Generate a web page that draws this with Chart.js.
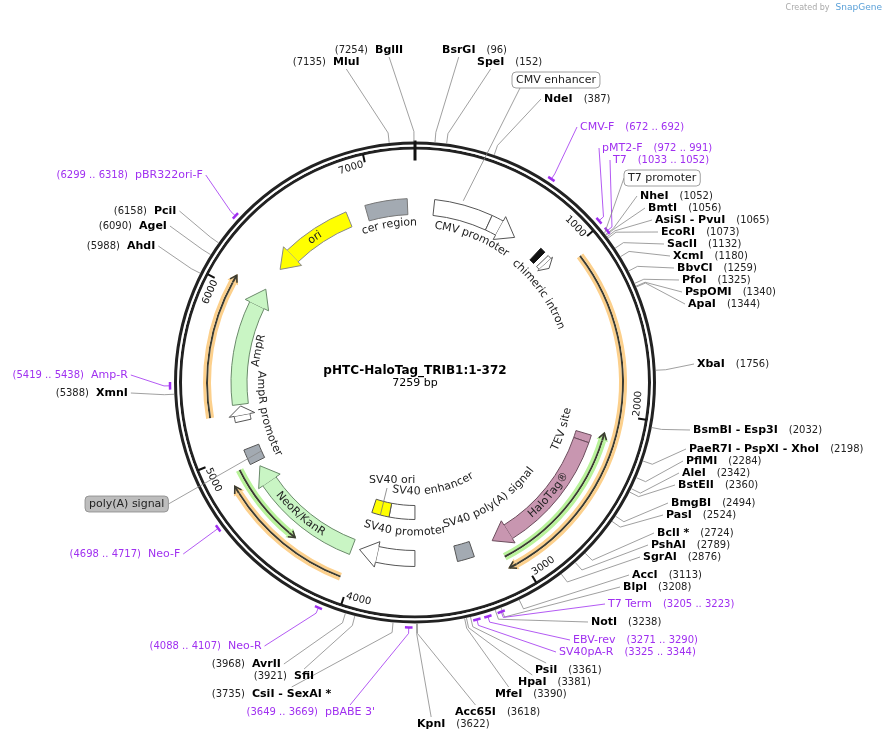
<!DOCTYPE html>
<html><head><meta charset="utf-8">
<script src="https://cdn.jsdelivr.net/npm/chart.js@4/dist/chart.umd.min.js"></script>
<style>html,body{margin:0;padding:0;background:#fff}</style>
</head><body>
<canvas id="c" width="885" height="741"></canvas>
<script>
const TOTAL = 7259;
const TITLE = 'pHTC-HaloTag_TRIB1:1-372';
// Features (bp)
const featNames = ['ORF1','ORF2','ORF3','HaloLine','NeoLine','CMVenh','CMV promoter','intron','intronArrow','TEV site','HaloTag','SV40pA','SV40 promoter','NeoR/KanR','polyA','AmpR promoter','AmpR','ori','cer region','SV40 enhancer','SV40 ori'];
const featStart = [1059,4053,5245,2117,4390,124,500,870,935,2150,2200,3250,3630,4050,4910,5190,5300,6250,6940,3630,3850];
const featEnd   = [3085,4840,6070,3080,4910,500,695,905,1000,2200,3105,3360,4000,4875,5010,5290,6090,6815,7210,3850,4000];
const featTrack = ['orf','orf','orf','line','line','main','main','main','main','main','main','main','main','main','main','main','main','main','main','inner','inner'];
const featDir   = [1,1,1,-1,-1,0,1,0,1,0,1,0,1,1,0,1,1,-1,0,0,0];
// Feature labels
const flText = ['CMV promoter','chimeric intron','cer region','ori','AmpR','AmpR promoter','NeoR/KanR','SV40 promoter','SV40 enhancer','SV40 poly(A) signal','HaloTag®','TEV site'];
const flBp   = [433,1100,7071,6560,5677,5203,4458,3710,3428,2977,2630,2170];
// Restriction sites
const siteNames = ['BglII','MluI','BsrGI','SpeI','NdeI','NheI','BmtI','AsiSI - PvuI','EcoRI','SacII','XcmI','BbvCI','PfoI','PspOMI','ApaI','XbaI','BsmBI - Esp3I','PaeR7I - PspXI - XhoI','PflMI','AleI','BstEII','BmgBI','PasI','BclI *','PshAI','SgrAI','AccI','BlpI','NotI','PsiI','HpaI','MfeI','Acc65I','KpnI','CsiI - SexAI *','SfiI','AvrII','XmnI','AhdI','AgeI','PciI'];
const sitePos = [7254,7135,96,152,387,1052,1056,1065,1073,1132,1180,1259,1325,1340,1344,1756,2032,2198,2284,2342,2360,2494,2524,2724,2789,2876,3113,3208,3238,3361,3381,3390,3618,3622,3735,3921,3968,5388,5988,6090,6158];
// Primers
const primerNames = ['CMV-F','pMT2-F','T7','T7 Term','EBV-rev','SV40pA-R',"pBABE 3'",'Neo-R','Neo-F','Amp-R','pBR322ori-F'];
const primerStart = [672,972,1033,3205,3271,3325,3649,4088,4698,5419,6299];
const primerEnd   = [692,991,1052,3223,3290,3344,3669,4107,4717,5438,6318];
// Callout features
const calloutNames = ['CMV enhancer','T7 promoter','poly(A) signal'];
const calloutPos = [300,1045,4960];
const tickLabels = ['1000','2000','3000','4000','5000','6000','7000'];
const tickPos = [1000,2000,3000,4000,5000,6000,7000];

// ---- layout / style (not data) ----
const siteLayout = [
 [375,50,'L','b'],[333,62,'L','b'],[442,50,'R','b'],[477,62,'R','b'],[544,99,'R','l'],
 [640,196,'R','l'],[648,208,'R','l'],[655,220,'R','l'],[661,232,'R','l'],[667,244,'R','l'],[673,256,'R','l'],[677,268,'R','l'],[682,280,'R','l'],[685,292,'R','l'],[688,304,'R','l'],
 [697,364,'R','l'],[693,430,'R','l'],[689,449,'R','l'],[686,461,'R','l'],[682,473,'R','l'],[678,485,'R','l'],[671,503,'R','l'],[666,515,'R','l'],[657,533,'R','l'],[651,545,'R','l'],[643,557,'R','l'],[632,575,'R','l'],[623,587,'R','l'],[591,622,'R','l'],
 [535,670,'R','t'],[518,682,'R','t'],[495,694,'R','t'],[455,712,'R','t'],[417,724,'R','t'],
 [252,694,'L','t'],[294,676,'L','t'],[252,664,'L','r'],[96,393,'L','r'],[127,246,'L','r'],[139,226,'L','r'],[154,211,'L','r']
];
const primerLayout = [[580,127,'R','l'],[602,148,'R','l'],[613,160,'R','l'],[608,604,'R','l'],[573,640,'R','l'],[559,652,'R','l'],[325,712,'L','t'],[228,646,'L','r'],[148,554,'L','r'],[91,375,'L','r'],[135,175,'L','r']];
const calloutLayout = [[512,80,'#fff'],[624,178,'#fff'],[85,504,'#bdbdbd']];
const flRadius = [158,156,160,176,160,154,176,150,109,145,176,155];
const featStyle = {
 ORF1:['#fcd08c'],ORF2:['#fcd08c'],ORF3:['#fcd08c'],HaloLine:['#b9f39a'],NeoLine:['#b9f39a'],
 CMVenh:['#ffffff','#555'],'CMV promoter':['#ffffff','#555'],intron:['#111','#111'],intronArrow:['#ffffff','#555'],
 'TEV site':['#c896b0','#6b4c5c'],HaloTag:['#c896b0','#6b4c5c'],SV40pA:['#a3aab2','#555'],'SV40 promoter':['#ffffff','#555'],
 'NeoR/KanR':['#c9f5c4','#6a8a6a'],polyA:['#a3aab2','#555'],'AmpR promoter':['#ffffff','#555'],AmpR:['#c9f5c4','#6a8a6a'],
 ori:['#ffff00','#888'],'cer region':['#a3aab2','#777'],'SV40 enhancer':['#ffffff','#555'],'SV40 ori':['#ffff00','#555']
};
const DARK = '#3c3c32';
const HEAD = {main:120, inner:60, orf:45, line:45};
const T = 'rgba(0,0,0,0)';
const FONT = '"DejaVu Sans", Verdana, sans-serif';
const PURPLE = '#a030f0';

function trackSegs(track, layer){
  const idx = featNames.map((n,i)=>i).filter(i=>featTrack[i]===track).sort((a,b)=>featStart[a]-featStart[b]);
  const data=[],bg=[],bc=[],bw=[]; let cur=0;
  idx.forEach(i=>{
    const s=featStart[i], e=featEnd[i], d=featDir[i];
    const hb = d ? Math.min(HEAD[track], (e-s)*0.6) : 0;
    const bs = d<0 ? s+hb : s, be = d>0 ? e-hb : e;
    if (bs>cur){data.push(bs-cur);bg.push(T);bc.push(T);bw.push(0);}
    data.push(be-bs);
    const st = featStyle[featNames[i]];
    if (layer==='glow'){bg.push(st[0]);bc.push(T);bw.push(0);}
    else if (layer==='dark'){bg.push(DARK);bc.push(T);bw.push(0);}
    else {bg.push(st[0]);bc.push(st[1]);bw.push(1);}
    cur=be;
  });
  if (cur<TOTAL){data.push(TOTAL-cur);bg.push(T);bc.push(T);bw.push(0);}
  return {data,backgroundColor:bg,borderColor:bc,borderWidth:bw};
}
function solid(color,w){return {data:[TOTAL],backgroundColor:[color],borderColor:[T],borderWidth:[0],weight:w};}
const datasets = [
  solid('#222',3), solid('#fff',2), solid('#222',3), solid(T,21),
  Object.assign(trackSegs('orf','glow'),{weight:3}), Object.assign(trackSegs('orf','dark'),{weight:2}), Object.assign(trackSegs('orf','glow'),{weight:3}),
  solid(T,4),
  Object.assign(trackSegs('line','glow'),{weight:3}), Object.assign(trackSegs('line','dark'),{weight:2}), Object.assign(trackSegs('line','glow'),{weight:3}),
  solid(T,8),
  Object.assign(trackSegs('main','f'),{weight:16}),
  solid(T,31),
  Object.assign(trackSegs('inner','f'),{weight:14})
];

const mapPlugin = {
  id:'map',
  afterDatasetsDraw(chart){
    const ctx = chart.ctx;
    const a0 = chart.getDatasetMeta(0).data[0];
    const cx=a0.x, cy=a0.y, R0=a0.outerRadius, Rin = chart.getDatasetMeta(2).data[0].innerRadius;
    const ang = bp => -Math.PI/2 + 2*Math.PI*bp/TOTAL;
    const pt = (bp,r)=>[cx+r*Math.cos(ang(bp)), cy+r*Math.sin(ang(bp))];
    const rr = i => {const m=chart.getDatasetMeta(i).data[0]; return [m.innerRadius,m.outerRadius];};
    const radii = {main:rr(12), inner:rr(14), orf:[rr(6)[0],rr(4)[1]], line:[rr(10)[0],rr(8)[1]]};
    ctx.save();
    featNames.forEach((n,i)=>{
      const d=featDir[i]; if(!d) return;
      const tr=featTrack[i], [ri,ro]=radii[tr], rm=(ri+ro)/2;
      const s=featStart[i], e=featEnd[i];
      const hb=Math.min(HEAD[tr],(e-s)*0.6);
      const tip = d>0?e:s, base = d>0?e-hb:s+hb;
      const st=featStyle[n];
      if (tr==='main'||tr==='inner'){
        const w = (e-s)<100 ? 2 : 5;
        ctx.beginPath();
        ctx.moveTo(...pt(base,ro+w)); ctx.lineTo(...pt(tip,rm)); ctx.lineTo(...pt(base,ri-w)); ctx.closePath();
        ctx.fillStyle=st[0]; ctx.fill();
        ctx.beginPath(); ctx.moveTo(...pt(base,ro)); ctx.lineTo(...pt(base,ro+w)); ctx.lineTo(...pt(tip,rm)); ctx.lineTo(...pt(base,ri-w)); ctx.lineTo(...pt(base,ri));
        ctx.strokeStyle=st[1]; ctx.lineWidth=1; ctx.stroke();
      } else {
        ctx.beginPath(); ctx.moveTo(...pt(base,ro+2)); ctx.lineTo(...pt(tip+d*8,rm)); ctx.lineTo(...pt(base,ri-2)); ctx.closePath();
        ctx.fillStyle=st[0]; ctx.fill();
        ctx.strokeStyle=DARK; ctx.lineWidth=2;
        ctx.beginPath(); ctx.moveTo(...pt(base,rm)); ctx.lineTo(...pt(tip,rm)); ctx.stroke();
        ctx.lineWidth=1.6;
        ctx.beginPath(); ctx.moveTo(...pt(tip-d*hb*0.8,rm+4)); ctx.lineTo(...pt(tip,rm)); ctx.lineTo(...pt(tip-d*hb*0.8,rm-4)); ctx.stroke();
      }
    });
    ctx.strokeStyle='#111'; ctx.lineWidth=3;
    ctx.beginPath(); ctx.moveTo(...pt(0,R0+1)); ctx.lineTo(...pt(0,Rin-11)); ctx.stroke();
    function arcText(text,bp,r,font,color){
      ctx.font=font; ctx.fillStyle=color; ctx.textAlign='center'; ctx.textBaseline='middle';
      const deg=bp/TOTAL*360, bottom=deg>90&&deg<270;
      const w=ctx.measureText(text).width, span=w/r, th=deg*Math.PI/180;
      let a = bottom ? th+span/2 : th-span/2;
      for (const ch of text){
        const cw=ctx.measureText(ch).width;
        const ac = bottom ? a-cw/2/r : a+cw/2/r;
        ctx.save(); ctx.translate(cx+r*Math.sin(ac), cy-r*Math.cos(ac)); ctx.rotate(bottom?ac+Math.PI:ac);
        ctx.fillText(ch,0,0); ctx.restore();
        a += bottom ? -cw/r : cw/r;
      }
    }
    tickPos.forEach((p,i)=>{
      ctx.strokeStyle='#111'; ctx.lineWidth=2;
      ctx.beginPath(); ctx.moveTo(...pt(p,Rin+1)); ctx.lineTo(...pt(p,Rin-7)); ctx.stroke();
      const r=Rin-9; ctx.font='10px '+FONT;
      const w=ctx.measureText(tickLabels[i]).width;
      const cbp = p - (w/2+2)/r*TOTAL/(2*Math.PI);
      arcText(tickLabels[i], cbp, r, '10px '+FONT, '#111');
    });
    flText.forEach((t,i)=>arcText(t, flBp[i], flRadius[i], '11px '+FONT, '#222'));
    ctx.font='11px '+FONT; ctx.fillStyle='#222'; ctx.textAlign='left'; ctx.textBaseline='middle';
    ctx.fillText('SV40 ori',369,480);
    ctx.strokeStyle='#777'; ctx.lineWidth=0.8;
    ctx.beginPath(); ctx.moveTo(387,488); ctx.lineTo(...pt(3925,radii.inner[1])); ctx.stroke();
    function label(name,posText,lay,bp,color,nameFont,posFont,endR,lineColor){
      const [x,y,style,conn]=lay;
      ctx.textBaseline='middle'; ctx.textAlign='left';
      ctx.font=nameFont; const nw=ctx.measureText(name).width;
      ctx.font=posFont; const pw=ctx.measureText(posText).width;
      ctx.fillStyle=color; ctx.font=nameFont; ctx.fillText(name,x,y);
      ctx.font=posFont; ctx.fillStyle=color==='#000'?'#222':color;
      ctx.fillText(posText, style==='R'? x+nw+11 : x-7-pw, y);
      let c;
      if(conn==='l') c=[x-3,y]; else if(conn==='r') c=[x+nw+3,y]; else if(conn==='t') c=[x+nw/2,y-7]; else c=[x+nw/2,y+7];
      ctx.strokeStyle=lineColor; ctx.lineWidth=0.8;
      ctx.beginPath(); ctx.moveTo(...c); ctx.lineTo(...pt(bp,R0+10)); ctx.lineTo(...pt(bp,endR)); ctx.stroke();
    }
    siteNames.forEach((n,i)=>label(n,'('+sitePos[i]+')',siteLayout[i],sitePos[i],'#000','bold 11px '+FONT,'10px '+FONT,R0,'#888'));
    primerNames.forEach((n,i)=>{
      const mid=(primerStart[i]+primerEnd[i])/2;
      label(n,'('+primerStart[i]+' .. '+primerEnd[i]+')',primerLayout[i],mid,PURPLE,'11px '+FONT,'10px '+FONT,R0+4,PURPLE);
      ctx.strokeStyle=PURPLE; ctx.lineWidth=2.5;
      const half=Math.max((primerEnd[i]-primerStart[i])/2, 18);
      ctx.beginPath(); ctx.arc(cx,cy,R0+4,ang(mid-half),ang(mid+half)); ctx.stroke();
    });
    calloutNames.forEach((n,i)=>{
      const [x,y,fill]=calloutLayout[i];
      ctx.font='11px '+FONT; const w=ctx.measureText(n).width;
      const target = i===2 ? pt(calloutPos[i],radii.main[0]) : pt(calloutPos[i], i===0? radii.main[1]+4 : R0);
      const from = i===0 ? [x+8,y+8] : (i===1 ? [x,y] : [x+w+8,y]);
      ctx.strokeStyle='#888'; ctx.lineWidth=0.8;
      ctx.beginPath(); ctx.moveTo(...from); ctx.lineTo(...target); ctx.stroke();
      ctx.beginPath(); ctx.roundRect(x,y-8,w+8,16,4);
      ctx.fillStyle=fill; ctx.fill(); ctx.strokeStyle='#888'; ctx.stroke();
      ctx.fillStyle='#222'; ctx.textAlign='left'; ctx.textBaseline='middle'; ctx.fillText(n,x+4,y);
    });
    ctx.textAlign='center'; ctx.textBaseline='middle'; ctx.fillStyle='#000';
    ctx.font='bold 12px '+FONT; ctx.fillText(TITLE,cx,cy-12);
    ctx.font='11px '+FONT; ctx.fillText(TOTAL+' bp',cx,cy+1);
    ctx.textAlign='right'; ctx.font='9px '+FONT; ctx.fillStyle='#5aa0d8'; ctx.fillText('SnapGene',882,8);
    const sw=ctx.measureText('SnapGene').width;
    ctx.font='8px '+FONT; ctx.fillStyle='#aaa'; ctx.fillText('Created by',882-sw-6,8);
    ctx.restore();
  }
};

new Chart(document.getElementById('c'),{
  type:'doughnut',
  data:{labels:[],datasets},
  options:{responsive:false,animation:false,events:[],cutout:123,
    layout:{padding:{left:174,right:229,top:141,bottom:117}},
    plugins:{legend:{display:false},tooltip:{enabled:false}}},
  plugins:[mapPlugin]
});
</script>
</body></html>
